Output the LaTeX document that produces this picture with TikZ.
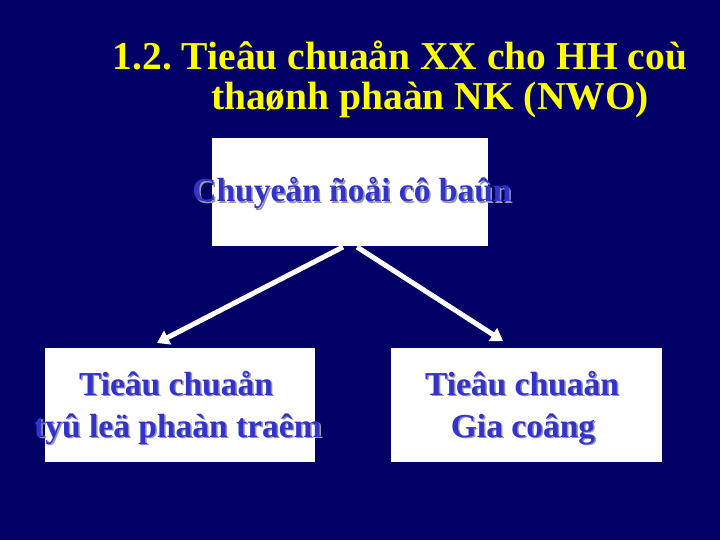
\documentclass[tikz,border=0pt]{standalone}
\usepackage{fontspec}
\setmainfont{Liberation Serif}
\usetikzlibrary{arrows.meta}
\definecolor{bgnavy}{RGB}{0,0,102}
\definecolor{titleyellow}{RGB}{255,255,0}
\definecolor{boxblue}{RGB}{51,51,204}
\definecolor{shadowgray}{RGB}{150,150,170}
\newcommand{\shtext}[1]{\makebox[0pt][l]{\hspace{1.5pt}\raisebox{-1.5pt}{\textcolor{shadowgray}{#1}}}\textcolor{boxblue}{#1}}
\frenchspacing
\tikzset{
  titletext/.style={text=titleyellow, font=\bfseries\fontsize{39.5}{44}\selectfont, anchor=base, inner sep=0},
  boxtext/.style={font=\bfseries\fontsize{33.5}{40}\selectfont, anchor=base, inner sep=0, align=center},
  whitebox/.style={fill=white, draw=none},
  conn/.style={draw=white, line width=5pt, -{Triangle[length=12pt,width=15pt]}}
}
\begin{document}
\begin{tikzpicture}[x=1pt,y=-1pt]
\fill[bgnavy] (0,0) rectangle (720,540);
\useasboundingbox (0,0) rectangle (720,540);
% title
\node[titletext] (t1) at (400,70) {1.2. Tieâu chuaån XX cho HH coù};
\node[titletext] (t2) at (430,110) {thaønh phaàn NK (NWO)};
% boxes
\path[whitebox] (212,138) rectangle (488,246);
\node[boxtext] (top) at (352,202) {\shtext{Chuyeån ñoåi cô baûn}};
\path[whitebox] (45,348) rectangle (315,462);
\node[boxtext] (l1) at (176,395) {\shtext{Tieâu chuaån}};
\node[boxtext] (l2) at (178,437) {\shtext{tyû leä phaàn traêm}};
\path[whitebox] (391,348) rectangle (662,462);
\node[boxtext] (r1) at (522,395) {\shtext{Tieâu chuaån}};
\node[boxtext] (r2) at (523,437) {\shtext{Gia coâng}};
% connectors
\coordinate (sl) at (343,247);
\coordinate (sr) at (357,247);
\coordinate (leftt) at (157,343);
\coordinate (rightt) at (503,341);
\draw[conn] (sl) -- (leftt);
\draw[conn] (sr) -- (rightt);
\end{tikzpicture}
\end{document}
